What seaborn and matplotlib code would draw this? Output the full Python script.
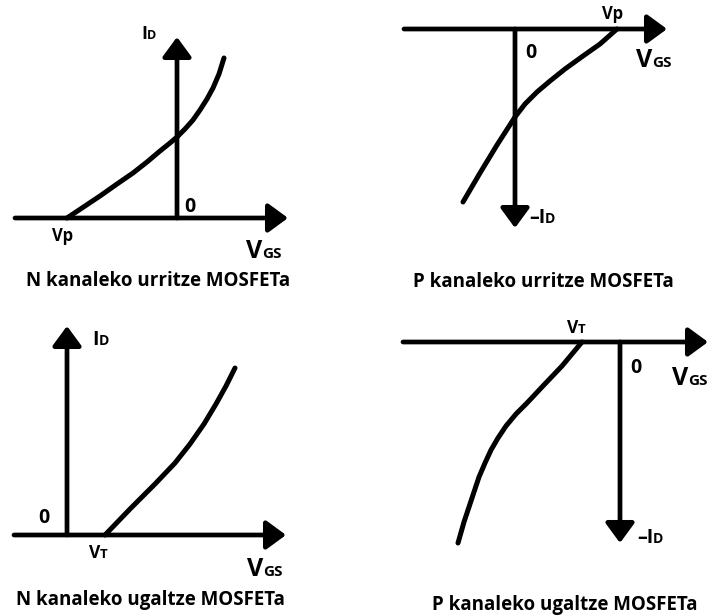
"""MOSFET transfer characteristics (N/P, depletion/enhancement) redrawn with seaborn."""
import matplotlib; matplotlib.use("Agg")
import pandas as pd
import matplotlib.pyplot as plt
import seaborn as sns

W, H, DPI = 711, 616, 100
PX = 10  # pixels per unit of VGS / ID

# N kanaleko urritze (depletion)
vgs_n_dep = [-11.0, -9.2, -7.7, -6.0, -4.4, -3.0, -1.7, -0.7, 0.0, 0.8, 1.6, 2.3, 3.0, 3.6, 4.2, 4.7]
id_n_dep = [0.0, 1.2, 2.2, 3.4, 4.5, 5.6, 6.7, 7.5, 8.1, 8.9, 9.8, 10.8, 11.9, 13.0, 14.4, 16.0]
# P kanaleko urritze (depletion)
vgs_p_dep = [-5.2, -3.5, -1.8, 0.0, 1.0, 2.2, 3.5, 5.0, 6.8, 8.5, 10.2]
id_p_dep = [-17.3, -14.4, -11.6, -8.8, -7.5, -6.3, -5.2, -4.0, -2.7, -1.5, 0.0]
# N kanaleko ugaltze (enhancement)
vgs_n_enh = [3.8, 6.3, 8.8, 10.8, 12.3, 13.7, 14.9, 15.9, 16.8]
id_n_enh = [0.0, 2.6, 5.1, 7.2, 9.1, 11.1, 13.1, 14.9, 16.7]
# P kanaleko ugaltze (enhancement)
vgs_p_enh = [-16.2, -15.6, -15.1, -14.6, -14.1, -13.5, -12.9, -12.2, -11.4, -10.4, -9.3,
             -7.8, -5.8, -3.8]
id_p_enh = [-20.1, -18.0, -16.5, -15.0, -13.5, -12.1, -10.8, -9.6, -8.4, -7.2, -6.1,
            -4.5, -2.4, 0.0]

captions = ["N kanaleko urritze MOSFETa", "P kanaleko urritze MOSFETa",
            "N kanaleko ugaltze MOSFETa", "P kanaleko ugaltze MOSFETa"]

# layout: origin pixel, horizontal axis (start, tip), vertical tip, caption centre
panels = [
    dict(x=vgs_n_dep, y=id_n_dep, origin=(177, 218), hx=(-16.2, 11.1), vy=18.1, cap=(158, 286)),
    dict(x=vgs_p_dep, y=id_p_dep, origin=(515, 29), hx=(-11.1, 15.2), vy=-19.9, cap=(543, 287)),
    dict(x=vgs_n_enh, y=id_n_enh, origin=(67, 535), hx=(-5.3, 21.9), vy=20.9, cap=(150, 605)),
    dict(x=vgs_p_enh, y=id_p_enh, origin=(620, 342), hx=(-21.7, 8.8), vy=-20.1, cap=(565, 610)),
]

# (x, baseline y, main text, small part, sizes) in pixels / points
labels = [
    (141, 39, "I", "D", 13, 9), (184, 212, "0", "", 14, 0), (52, 241, "Vp", "", 12, 0),
    (246, 258, "V", "GS", 18, 11),
    (602, 19, "Vp", "", 12, 0), (525, 58, "0", "", 14, 0), (636, 67, "V", "GS", 18, 11),
    (529, 223, "–I", "D", 14, 10),
    (92, 345, "I", "D", 14, 10), (38, 523, "0", "", 14, 0),
    (89, 558, "V", "T", 12.5, 9.5), (247, 576, "V", "GS", 18, 11),
    (567, 333, "V", "T", 12.5, 9.5), (630, 373, "0", "", 14, 0),
    (672, 385, "V", "GS", 18, 11), (637, 543, "–I", "D", 14, 10),
]

FONT = dict(family="Open Sans", fontweight="bold", color="black")
ARROW = dict(arrowstyle="-|>,head_length=0.6,head_width=0.44", lw=3.4, color="black",
             shrinkA=0, shrinkB=0, mutation_scale=20)


def axis_arrow(ax, start, tip):
    ax.annotate("", xy=tip, xytext=start, arrowprops=ARROW, annotation_clip=False)


def label(fig, renderer, x, y, main, sub, size, sub_size):
    t = fig.text(x / W, 1 - y / H, main, ha="left", va="baseline", fontsize=size, **FONT)
    if sub:
        bb = t.get_window_extent(renderer)
        fig.text(bb.x1 / W, 1 - y / H, sub, ha="left", va="baseline", fontsize=sub_size, **FONT)


def main():
    sns.set_style("white")
    fig = plt.figure(figsize=(W / DPI, H / DPI), dpi=DPI)
    fig.patch.set_facecolor("white")
    qw, qh = W / 2, H / 2
    for i, p in enumerate(panels):
        r, c = divmod(i, 2)
        ax = fig.add_axes([c * 0.5, 0.5 - r * 0.5, 0.5, 0.5])
        ox, oy = p["origin"]
        x0, y0 = c * qw, r * qh
        ax.set_xlim((x0 - ox) / PX, (x0 + qw - ox) / PX)
        ax.set_ylim((oy - (y0 + qh)) / PX, (oy - y0) / PX)
        ax.axis("off")
        ax.patch.set_alpha(0)

        axis_arrow(ax, (p["hx"][0], 0), (p["hx"][1], 0))
        axis_arrow(ax, (0, 0), (0, p["vy"]))
        df = pd.DataFrame({"VGS": p["x"], "ID": p["y"]})
        sns.lineplot(data=df, x="VGS", y="ID", ax=ax, color="black", linewidth=3.6,
                     sort=False, estimator=None, solid_capstyle="round",
                     solid_joinstyle="round", clip_on=False)
        ax.set_xlabel(""); ax.set_ylabel("")

        cx, cy = p["cap"]
        fig.text(cx / W, 1 - cy / H, captions[i], ha="center", va="baseline",
                 fontsize=13.5, **FONT)

    renderer = fig.canvas.get_renderer()
    for x, y, main_s, sub_s, size, sub_size in labels:
        label(fig, renderer, x, y, main_s, sub_s, size, sub_size)

    fig.savefig("out.png", dpi=DPI, facecolor="white")
    plt.close(fig)


if __name__ == "__main__":
    main()
